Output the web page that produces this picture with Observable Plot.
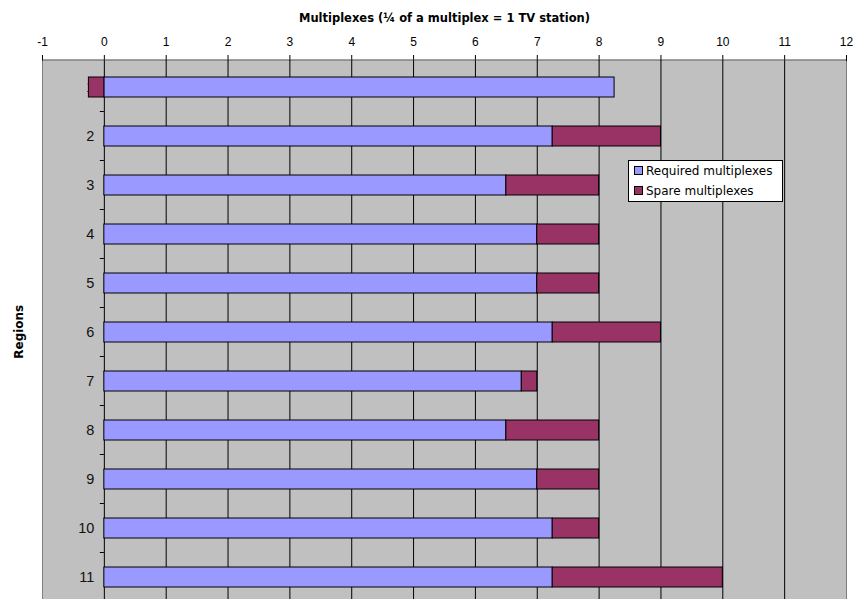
<!DOCTYPE html>
<html>
<head>
<meta charset="utf-8">
<script src="https://cdn.jsdelivr.net/npm/d3@7"></script>
<script src="https://cdn.jsdelivr.net/npm/@observablehq/plot@0.6"></script>
<style>
  body { margin: 0; background: white; }
  #wrap { position: relative; width: 855px; height: 599px; overflow: hidden; }
  .legend {
    position: absolute; left: 628px; top: 160px; width: 153px; height: 40px;
    background: white; border: 1px solid black;
    font: 12px "DejaVu Sans", sans-serif; color: black;
    box-sizing: content-box;
  }
  .legend .row { position: absolute; left: 5px; height: 14px; line-height: 14px; white-space: nowrap; }
  .legend .sw { display: inline-block; width: 7px; height: 7px; border: 1px solid black; margin-right: 3px; vertical-align: 0px; }
</style>
</head>
<body>
<div id="wrap"></div>
<script>
// Multiplexes per region: required vs spare (¼ multiplex = 1 TV station)
const regions = ["1", "2", "3", "4", "5", "6", "7", "8", "9", "10", "11"];
const required = [8.25, 7.25, 6.5, 7, 7, 7.25, 6.75, 6.5, 7, 7.25, 7.25];
const spare = [-0.25, 1.75, 1.5, 1, 1, 1.75, 0.25, 1.5, 1, 0.75, 2.75];
const seriesNames = ["Required multiplexes", "Spare multiplexes"];
const seriesColors = ["#9999ff", "#993366"];
const xTicks = [-1, 0, 1, 2, 3, 4, 5, 6, 7, 8, 9, 10, 11, 12];
const gridValues = [0, 1, 2, 3, 4, 5, 6, 7, 8, 9, 10, 11];
const borderValues = [-1, 12];
const title = "Multiplexes (¼ of a multiplex = 1 TV station)";
const yLabel = "Regions";

const data = regions.flatMap((r, i) => [
  {region: r, series: seriesNames[0], value: required[i]},
  {region: r, series: seriesNames[1], value: spare[i]}
]);

// Category axis drawn along x = 0, with ticks at the band boundaries,
// plus the horizontal axis line along the top of the plot area.
function categoryAxis(index, scales, values, dims) {
  const {x, y} = scales;
  const bw = y.bandwidth();
  const g = d3.create("svg:g");
  const x0 = x(0);
  for (let i = 1; i < regions.length; ++i) {
    const yb = (y(regions[i - 1]) + y(regions[i])) / 2 + bw / 2;
    g.append("line")
      .attr("x1", x0 - 4).attr("x2", x0)
      .attr("y1", yb).attr("y2", yb)
      .attr("stroke", "black");
  }
  g.append("line")
    .attr("x1", x(xTicks[0])).attr("x2", x(xTicks[xTicks.length - 1]))
    .attr("y1", dims.marginTop).attr("y2", dims.marginTop)
    .attr("stroke", "#404040");
  return g.node();
}

const chart = Plot.plot({
  width: 855,
  height: 599,
  marginLeft: 42,
  marginRight: 9,
  marginTop: 60,
  marginBottom: -5.5,
  style: {fontFamily: "'Liberation Sans', Arial, sans-serif", fontSize: "12px", background: "white", color: "black"},
  x: {domain: [-1, 12], axis: null},
  y: {type: "band", domain: regions, paddingInner: 0.6, paddingOuter: 0.3, axis: null},
  color: {domain: seriesNames, range: seriesColors},
  marks: [
    Plot.frame({fill: "#c0c0c0"}),
    Plot.ruleX(gridValues, {stroke: "black", strokeWidth: 1}),
    Plot.ruleX(borderValues, {stroke: "#808080", strokeWidth: 1}),
    Plot.axisX({anchor: "top", ticks: xTicks, label: null, tickSize: 6, tickPadding: 9, tickFormat: d => String(d), fontSize: 12, stroke: "black"}),
    categoryAxis,
    Plot.text(regions, {x: 0, y: d => d, text: d => d, dx: -10, textAnchor: "end", fontSize: 14.5, fontWeight: "normal", fill: "#111"}),
    Plot.barX(data, Plot.stackX({x: "value", y: "region", fill: "series", stroke: "black", strokeWidth: 1})),
    Plot.text([title], {frameAnchor: "top", dy: -47, text: d => d, fontFamily: "'DejaVu Sans', sans-serif", fontWeight: "bold", fontSize: 11.5, fill: "black"}),
    Plot.text([yLabel], {frameAnchor: "left", textAnchor: "middle", dx: -23, dy: -1, rotate: -90, text: d => d, fontFamily: "'DejaVu Sans', sans-serif", fontWeight: "bold", fontSize: 12, fill: "black"})
  ]
});

const wrap = document.getElementById("wrap");
wrap.appendChild(chart);

// Legend box inside the plot area
const legend = document.createElement("div");
legend.className = "legend";
seriesNames.forEach((name, i) => {
  const row = document.createElement("div");
  row.className = "row";
  row.style.top = (3 + i * 20) + "px";
  const sw = document.createElement("span");
  sw.className = "sw";
  sw.style.background = seriesColors[i];
  row.appendChild(sw);
  row.appendChild(document.createTextNode(name));
  legend.appendChild(row);
});
wrap.appendChild(legend);
</script>
</body>
</html>
